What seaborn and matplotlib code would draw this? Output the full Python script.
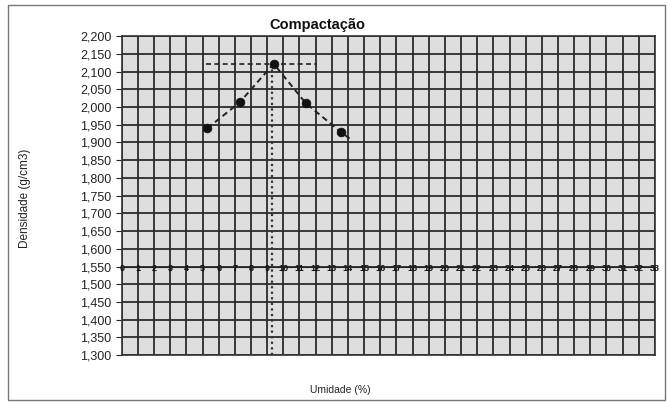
import numpy as np
import pandas as pd
import matplotlib
matplotlib.use('Agg')
import matplotlib.pyplot as plt
from matplotlib.patches import Rectangle
from matplotlib.ticker import FuncFormatter
import seaborn as sns

sns.set_style('white')
plt.rcParams['font.family'] = ['Liberation Sans', 'DejaVu Sans']

# ensaio de compactacao
umidade = [5.3, 7.3, 9.4, 11.4, 13.6]
densidade = [1940, 2013, 2122, 2010, 1928]
# a linha tracejada continua um pouco depois do ultimo ponto
curva_x = [5.3, 7.3, 9.4, 11.4, 13.6, 14.1]
curva_y = [1940, 2013, 2122, 2010, 1928, 1911]
# umidade otima / densidade maxima
h_otima = 9.3
dens_max = 2122
h_linha = [5.2, 12.1]

x_ticks = list(range(0, 34))
y_ticks = list(range(1300, 2201, 50))

df_pts = pd.DataFrame({'Umidade': umidade, 'Densidade': densidade})
df_curva = pd.DataFrame({'Umidade': curva_x, 'Densidade': curva_y})

fig = plt.figure(figsize=(6.69, 4.05), dpi=100)
ax = fig.add_axes([0.182, 0.123, 0.797, 0.788])
ax.set_facecolor('#dedede')

ax.set_xlim(0, 33)
ax.set_ylim(1300, 2200)
ax.set_xticks(x_ticks)
ax.set_yticks(y_ticks)
ax.grid(True, color='#2b2b2b', linewidth=1.3)
ax.set_axisbelow(True)
for s in ax.spines.values():
    s.set_color('#333333')
    s.set_linewidth(1.2)

sns.lineplot(data=df_curva, x='Umidade', y='Densidade', ax=ax, color='#222222',
             linestyle=(0, (3, 2)), linewidth=1.4, sort=False, zorder=3)
sns.scatterplot(data=df_pts, x='Umidade', y='Densidade', ax=ax, color='#111111',
                s=40, edgecolor='#111111', zorder=4)

ax.plot(h_linha, [dens_max, dens_max], color='#222222', linestyle=(0, (3, 2)),
        linewidth=1.2, zorder=3)
ax.plot([h_otima, h_otima], [1300, dens_max], color='#333333', linestyle=(0, (1, 1.5)),
        linewidth=1.6, zorder=3)

# eixo x cruza em 1,550
ax.tick_params(axis='x', bottom=False, labelbottom=False)
sec = ax.secondary_xaxis((1550 - 1300) / 900)
sec.set_zorder(10)
sec.set_xticks(x_ticks)
sec.set_xticklabels([str(v) for v in x_ticks], fontsize=6.5, fontweight='bold', color='#111111')
sec.tick_params(axis='x', length=3, pad=-5, width=0.8)
sec.spines['bottom'].set_color('#222222')

ax.yaxis.set_major_formatter(FuncFormatter(lambda v, p: '{:,.0f}'.format(v)))
ax.tick_params(axis='y', left=True, length=4, labelsize=9, colors='#222222')

ax.set_xlabel('')
ax.set_ylabel('')
fig.text(0.508, 0.036, 'Umidade (%)', fontsize=7.5, ha='center', va='center', color='#222222')
fig.text(0.038, 0.51, 'Densidade (g/cm3)', fontsize=8.5, ha='center', va='center',
         rotation=90, color='#222222')
fig.text(0.475, 0.938, 'Compactação', fontsize=10.5, fontweight='bold', ha='center',
         va='center', color='#111111')

fig.patches.append(Rectangle((0.012, 0.012), 0.982, 0.975, transform=fig.transFigure,
                             fill=False, edgecolor='#777777', linewidth=1.0))

fig.savefig('out.png', dpi=100)
